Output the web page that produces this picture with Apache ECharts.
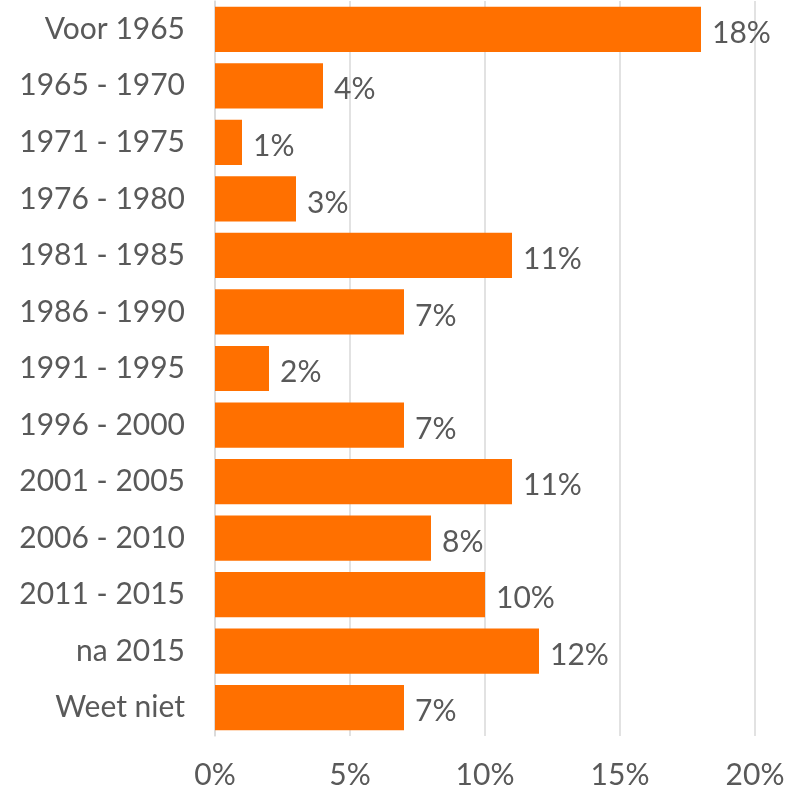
<!DOCTYPE html>
<html><head><meta charset="utf-8">
<script src="https://cdn.jsdelivr.net/npm/echarts@6/dist/echarts.min.js"></script>
<style>html,body{margin:0;padding:0;background:#fff}#c{width:789px;height:794px}</style>
</head><body><div id="c"></div>
<script>
const categories = ["Voor 1965","1965 - 1970","1971 - 1975","1976 - 1980","1981 - 1985","1986 - 1990","1991 - 1995","1996 - 2000","2001 - 2005","2006 - 2010","2011 - 2015","na 2015","Weet niet"];
const values = [18,4,1,3,11,7,2,7,11,8,10,12,7];
const xTicks = [0,5,10,15,20];

const chart = echarts.init(document.getElementById('c'), null, {renderer:'canvas'});
const font = 'Lato, "DejaVu Sans", sans-serif';
chart.setOption({
  animation:false,
  grid:{left:215,right:34,top:1,bottom:58,containLabel:false},
  xAxis:{type:'value',min:xTicks[0],max:xTicks[xTicks.length-1],interval:5,
    axisLine:{show:false},axisTick:{show:false},
    splitLine:{lineStyle:{color:'#d9d9d9',width:1.5}},
    axisLabel:{formatter:v=>v+'%',color:'#595959',fontSize:30,fontFamily:font,margin:24}},
  yAxis:{type:'category',data:categories,inverse:true,
    axisLine:{show:true,lineStyle:{color:'#d9d9d9',width:1.5}},axisTick:{show:false},
    axisLabel:{color:'#595959',fontSize:30,fontFamily:font,margin:30}},
  series:[{type:'bar',data:values,barCategoryGap:'20%',
    itemStyle:{color:'#FF7000'},
    label:{show:true,position:'right',distance:11,offset:[0,4],formatter:p=>p.value+'%',
      color:'#595959',fontSize:30,fontFamily:font}}]
});
</script></body></html>
